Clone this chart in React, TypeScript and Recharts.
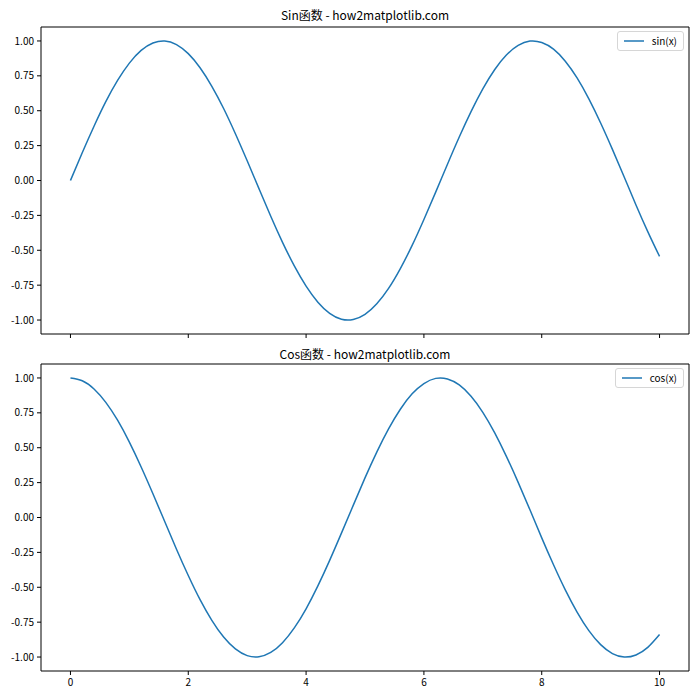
import { LineChart, Line, XAxis, YAxis, ReferenceArea } from "recharts";

const xs = [
  0, 0.2, 0.4, 0.6, 0.8, 1, 1.2, 1.4, 1.6, 1.8, 2, 2.2, 2.4, 2.6, 2.8, 3, 3.2, 3.4, 3.6, 3.8,
  4, 4.2, 4.4, 4.6, 4.8, 5, 5.2, 5.4, 5.6, 5.8, 6, 6.2, 6.4, 6.6, 6.8, 7, 7.2, 7.4, 7.6, 7.8,
  8, 8.2, 8.4, 8.6, 8.8, 9, 9.2, 9.4, 9.6, 9.8, 10,
];

const sinValues = [
  0.0, 0.199, 0.389, 0.565, 0.717, 0.841, 0.932, 0.985, 1.0, 0.974, 0.909, 0.808, 0.675, 0.516,
  0.335, 0.141, -0.058, -0.256, -0.443, -0.612, -0.757, -0.872, -0.952, -0.994, -0.996, -0.959,
  -0.883, -0.773, -0.631, -0.465, -0.279, -0.083, 0.117, 0.312, 0.494, 0.657, 0.794, 0.899,
  0.968, 0.999, 0.989, 0.941, 0.855, 0.735, 0.585, 0.412, 0.223, 0.025, -0.175, -0.366, -0.544,
];

const cosValues = [
  1.0, 0.98, 0.921, 0.825, 0.697, 0.54, 0.362, 0.17, -0.029, -0.227, -0.416, -0.589, -0.737,
  -0.857, -0.942, -0.99, -0.998, -0.967, -0.897, -0.791, -0.654, -0.49, -0.307, -0.112, 0.087,
  0.284, 0.469, 0.635, 0.776, 0.886, 0.96, 0.997, 0.993, 0.95, 0.869, 0.754, 0.608, 0.438,
  0.252, 0.055, -0.146, -0.339, -0.519, -0.678, -0.811, -0.911, -0.975, -1.0, -0.985, -0.931,
  -0.839,
];

const xTicks = [0, 2, 4, 6, 8, 10];
const yTicks = [-1, -0.75, -0.5, -0.25, 0, 0.25, 0.5, 0.75, 1];

const FONT = '"Noto Sans CJK SC", "Noto Sans", sans-serif';
const BLUE = "#1f77b4";
const tickStyle = { fontSize: 10, fill: "#000", fontFamily: FONT };

const sinData = xs.map((x, i) => ({ x, y: sinValues[i] }));
const cosData = xs.map((x, i) => ({ x, y: cosValues[i] }));

function LegendBox({ label, top }: { label: string; top: number }) {
  return (
    <div
      style={{
        position: "absolute",
        top,
        right: 16,
        border: "1px solid #d6d6d6",
        borderRadius: 3,
        background: "#fff",
        padding: "2px 6px",
        display: "flex",
        alignItems: "center",
        gap: 8,
        fontSize: 10,
        fontFamily: FONT,
        color: "#000",
        lineHeight: "14px",
      }}
    >
      <svg width={20} height={4}>
        <line x1={0} y1={2} x2={20} y2={2} stroke={BLUE} strokeWidth={1.5} />
      </svg>
      {label}
    </div>
  );
}

function Panel({
  data,
  title,
  legend,
  height,
  top,
  showXLabels,
}: {
  data: { x: number; y: number }[];
  title: string;
  legend: string;
  height: number;
  top: number;
  showXLabels: boolean;
}) {
  const xAxisHeight = showXLabels ? 29 : 6;
  return (
    <div style={{ position: "absolute", left: 0, top, width: 700, height }}>
      <div
        style={{
          position: "absolute",
          left: 41,
          width: 648,
          top: showXLabels ? 5 : 6,
          textAlign: "center",
          fontSize: 12,
          fontFamily: FONT,
          color: "#000",
        }}
      >
        {title}
      </div>
      <LineChart
        width={700}
        height={height}
        data={data}
        margin={{ top: height - 307 - xAxisHeight, right: 11, left: 0, bottom: 0 }}
      >
        <XAxis
          dataKey="x"
          type="number"
          domain={[-0.5, 10.5]}
          ticks={xTicks}
          allowDataOverflow
          height={xAxisHeight}
          tick={tickStyle}
          tickSize={4}
          tickMargin={4}
          axisLine={false}
          tickLine={{ stroke: "#000" }}
          tickFormatter={(v) => (showXLabels ? String(v) : "")}
        />
        <YAxis
          type="number"
          domain={[-1.1, 1.1]}
          ticks={yTicks}
          allowDataOverflow
          width={41}
          tick={tickStyle}
          tickSize={4}
          tickMargin={3}
          axisLine={false}
          tickLine={{ stroke: "#000" }}
          tickFormatter={(v: number) => v.toFixed(2)}
        />
        <ReferenceArea
          x1={-0.5}
          x2={10.5}
          y1={-1.1}
          y2={1.1}
          fill="none"
          fillOpacity={0}
          stroke="#000"
          strokeWidth={1}
          ifOverflow="visible"
        />
        <Line
          type="natural"
          dataKey="y"
          stroke={BLUE}
          strokeWidth={1.5}
          dot={false}
          isAnimationActive={false}
        />
      </LineChart>
      <LegendBox label={legend} top={height - 307 - xAxisHeight + 4} />
    </div>
  );
}

export default function App() {
  return (
    <div
      style={{
        position: "fixed",
        left: 0,
        top: 0,
        width: 700,
        height: 700,
        background: "#fff",
      }}
    >
      <Panel data={sinData} title="Sin函数 - how2matplotlib.com" legend="sin(x)" height={340} top={0} showXLabels={false} />
      <Panel data={cosData} title="Cos函数 - how2matplotlib.com" legend="cos(x)" height={360} top={340} showXLabels />
    </div>
  );
}
